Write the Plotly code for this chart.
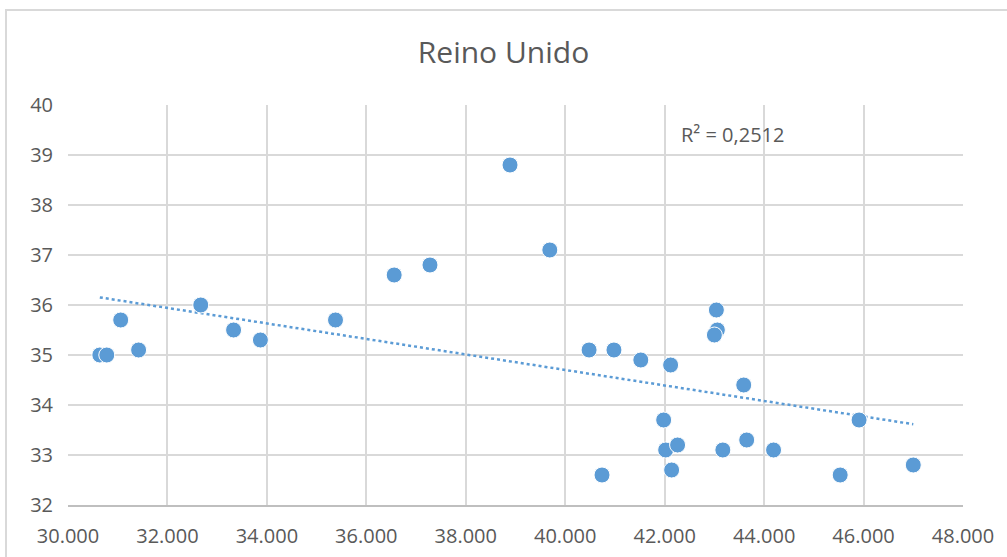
import numpy as np
import plotly.graph_objects as go

# PIB per cápita (x) frente a valores del eje y, Reino Unido
pib = [30640, 30780, 31060, 31420, 32670, 33330, 33870, 35380, 36560, 37280,
       38890, 39690, 40480, 40980, 41520, 42120, 41980, 42020, 42260, 42140,
       40740, 43040, 43060, 43000, 43590, 43170, 43650, 44190, 45530, 45910,
       47000]
valor = [35.0, 35.0, 35.7, 35.1, 36.0, 35.5, 35.3, 35.7, 36.6, 36.8,
         38.8, 37.1, 35.1, 35.1, 34.9, 34.8, 33.7, 33.1, 33.2, 32.7,
         32.6, 35.9, 35.5, 35.4, 34.4, 33.1, 33.3, 33.1, 32.6, 33.7,
         32.8]
x_ticks = list(range(30000, 48001, 2000))
y_ticks = list(range(32, 41))

AZUL = "#5b9bd5"
GRIS_TXT = "#595959"
GRIS_REJ = "#d9d9d9"

# línea de tendencia lineal (mínimos cuadrados)
pend, orig = np.polyfit(pib, valor, 1)
x_tend = np.array([min(pib), max(pib)])
y_tend = pend * x_tend + orig

fig = go.Figure()
fig.add_trace(go.Scatter(
    x=x_tend, y=y_tend, mode="lines",
    line=dict(color=AZUL, width=2.5, dash="dot"),
    hoverinfo="skip",
))
fig.add_trace(go.Scatter(
    x=pib, y=valor, mode="markers",
    marker=dict(size=16, color=AZUL, line=dict(color="white", width=1)),
))

fig.update_layout(
    width=1007, height=557,
    margin=dict(l=68, r=44, t=105, b=52),
    paper_bgcolor="white", plot_bgcolor="white",
    showlegend=False,
    separators=",.",
    font=dict(family="Open Sans", color=GRIS_TXT, size=20),
    title=dict(text="Reino Unido", x=0.5, xanchor="center", y=0.905,
               yanchor="middle", font=dict(size=30, color=GRIS_TXT)),
    xaxis=dict(range=[30000, 48000], tickvals=x_ticks, tickformat=",d",
               showgrid=True, gridcolor=GRIS_REJ, gridwidth=2,
               zeroline=False, showline=True, linecolor="#bfbfbf",
               linewidth=2, mirror=False, ticks="", ticklabelstandoff=12,
               automargin=False),
    yaxis=dict(range=[32, 40], tickvals=y_ticks,
               showgrid=True, gridcolor=GRIS_REJ, gridwidth=2,
               zeroline=False, showline=False, ticks="",
               ticklabelstandoff=14, automargin=False),
    annotations=[dict(text="R² = 0,2512", xref="paper", yref="paper",
                      x=(679 - 68) / 895, y=1 - (135 - 105) / 400,
                      xanchor="left", yanchor="middle", showarrow=False,
                      font=dict(size=20, color=GRIS_TXT))],
    shapes=[dict(type="rect", xref="paper", yref="paper",
                 x0=(6 - 68) / 895, x1=1.2, y0=-0.3,
                 y1=1 + (105 - 10) / 400,
                 line=dict(color=GRIS_REJ, width=2), layer="below")],
)

fig.write_html("out.html", config={"displayModeBar": False},
               post_script="document.body.style.margin='0';")
